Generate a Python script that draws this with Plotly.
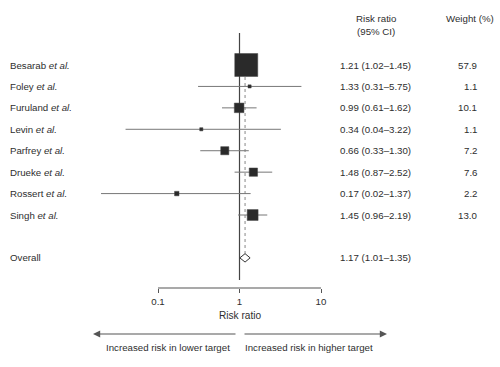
import math
import plotly.graph_objects as go

# ---- data ----
studies = ["Besarab", "Foley", "Furuland", "Levin", "Parfrey", "Drueke", "Rossert", "Singh"]
rr = [1.21, 1.33, 0.99, 0.34, 0.66, 1.48, 0.17, 1.45]
ci_lo = [1.02, 0.31, 0.61, 0.04, 0.33, 0.87, 0.02, 0.96]
ci_hi = [1.45, 5.75, 1.62, 3.22, 1.30, 2.52, 1.37, 2.19]
weights = [57.9, 1.1, 10.1, 1.1, 7.2, 7.6, 2.2, 13.0]
overall_rr = 1.17
overall_lo = 1.01
overall_hi = 1.35
tick_vals = [0.1, 1, 10]
tick_text = ["0.1", "1", "10"]

# ---- layout helpers ----
W, H = 500, 367
PX_DECADE = 81.5
PX_AT_01 = 158.0
ROW0_PX = 65.0
ROW_PX = 21.43
PLOT_BOTTOM = 288

def px_to_log(px):
    return -1 + (px - PX_AT_01) / PX_DECADE

def py_to_row(py):
    return (py - ROW0_PX) / ROW_PX

def py_to_paper(py):
    return (PLOT_BOTTOM - py) / PLOT_BOTTOM

rows = list(range(len(studies)))
overall_row = len(studies) + 1

FONT = "Liberation Sans, Arial, sans-serif"
TXT = "#2e2e2e"
FS = 9.7

fig = go.Figure()

# CI lines + squares
max_w = max(weights)
sizes = [23 * math.sqrt(w / max_w) for w in weights]
fig.add_trace(go.Scatter(
    x=rr, y=rows, mode="markers",
    marker=dict(symbol="square", size=sizes, color="#2a2a2a", opacity=1,
                line=dict(color="#444444", width=0.5)),
    error_x=dict(type="data", symmetric=False,
                 array=[h - r for h, r in zip(ci_hi, rr)],
                 arrayminus=[r - l for r, l in zip(rr, ci_lo)],
                 width=0, thickness=1, color="#777777"),
    hoverinfo="skip", showlegend=False, cliponaxis=False,
))

# overall diamond
h = 4.2 / ROW_PX
fig.add_trace(go.Scatter(
    x=[overall_lo, overall_rr, overall_hi, overall_rr, overall_lo],
    y=[overall_row, overall_row - h, overall_row, overall_row + h, overall_row],
    mode="lines", fill="toself", fillcolor="white",
    line=dict(color="#333333", width=1),
    hoverinfo="skip", showlegend=False,
))

shapes = [
    # line of no effect
    dict(type="line", xref="x", yref="y", x0=1, x1=1,
         y0=py_to_row(33), y1=py_to_row(280),
         line=dict(color="#444444", width=1.2), layer="below"),
    # overall dotted line
    dict(type="line", xref="x", yref="y", x0=overall_rr, x1=overall_rr,
         y0=0, y1=overall_row - h,
         line=dict(color="#888888", width=1, dash="dot"), layer="below"),
    # axis line
    dict(type="line", xref="x", yref="paper", x0=tick_vals[0], x1=tick_vals[-1],
         y0=0, y1=0, line=dict(color="#555555", width=1.2)),
]

ann = []
# study labels
for i, s in enumerate(studies):
    ann.append(dict(x=8 / W, xref="paper", y=i, yref="y", xanchor="left",
                    text=f"{s} <i>et al.</i>", showarrow=False,
                    font=dict(family=FONT, size=FS, color=TXT)))
    ann.append(dict(x=375 / W, xref="paper", y=i, yref="y", xanchor="center",
                    text=f"{rr[i]:.2f} ({ci_lo[i]:.2f}\u2013{ci_hi[i]:.2f})",
                    showarrow=False, font=dict(family=FONT, size=FS, color=TXT)))
    ann.append(dict(x=479 / W, xref="paper", y=i, yref="y", xanchor="right",
                    text=f"{weights[i]:.1f}", showarrow=False,
                    font=dict(family=FONT, size=FS, color=TXT)))
ann.append(dict(x=8 / W, xref="paper", y=overall_row, yref="y", xanchor="left",
                text="Overall", showarrow=False, font=dict(family=FONT, size=FS, color=TXT)))
ann.append(dict(x=375 / W, xref="paper", y=overall_row, yref="y", xanchor="center",
                text=f"{overall_rr:.2f} ({overall_lo:.2f}\u2013{overall_hi:.2f})",
                showarrow=False, font=dict(family=FONT, size=FS, color=TXT)))
# headers
ann.append(dict(x=375.5 / W, xref="paper", y=py_to_row(24.5), yref="y", xanchor="center",
                text="Risk ratio<br>(95% CI)", showarrow=False, align="center",
                font=dict(family=FONT, size=FS, color=TXT)))
ann.append(dict(x=470 / W, xref="paper", y=py_to_row(18), yref="y", xanchor="center",
                text="Weight (%)", showarrow=False,
                font=dict(family=FONT, size=FS, color=TXT)))
# axis title
ann.append(dict(x=240 / W, xref="paper", y=py_to_paper(315), yref="paper",
                xanchor="center", yanchor="middle",
                text="Risk ratio", showarrow=False,
                font=dict(family=FONT, size=FS + 0.4, color=TXT)))
# direction arrows
ya = py_to_paper(334)
ann.append(dict(x=px_to_log(93), y=ya, xref="x", yref="paper",
                ax=px_to_log(237), ay=0, axref="x", ayref="pixel",
                text="", showarrow=True, arrowhead=2, arrowsize=1.2,
                arrowwidth=1.2, arrowcolor="#555555"))
ann.append(dict(x=px_to_log(387), y=ya, xref="x", yref="paper",
                ax=px_to_log(243), ay=0, axref="x", ayref="pixel",
                text="", showarrow=True, arrowhead=2, arrowsize=1.2,
                arrowwidth=1.2, arrowcolor="#555555"))
yl = py_to_paper(347)
ann.append(dict(x=168 / W, xref="paper", y=yl, yref="paper",
                xanchor="center", yanchor="middle",
                text="Increased risk in lower target", showarrow=False,
                font=dict(family=FONT, size=FS, color=TXT)))
ann.append(dict(x=309 / W, xref="paper", y=yl, yref="paper",
                xanchor="center", yanchor="middle",
                text="Increased risk in higher target", showarrow=False,
                font=dict(family=FONT, size=FS, color=TXT)))

fig.update_layout(
    width=W, height=H,
    margin=dict(l=0, r=0, t=0, b=H - PLOT_BOTTOM, pad=0),
    paper_bgcolor="white", plot_bgcolor="white",
    showlegend=False,
    shapes=shapes, annotations=ann,
    xaxis=dict(type="log", range=[px_to_log(0), px_to_log(W)],
               tickvals=tick_vals, ticktext=tick_text,
               ticks="outside", ticklen=4, tickwidth=1, tickcolor="#555555",
               showline=False, showgrid=False, zeroline=False,
               tickfont=dict(family=FONT, size=FS, color=TXT), fixedrange=True),
    yaxis=dict(range=[py_to_row(PLOT_BOTTOM), py_to_row(0)],
               visible=False, showgrid=False, zeroline=False, fixedrange=True),
)

fig.write_html("out.html", config={"displayModeBar": False},
               post_script="document.body.style.margin='0';document.body.style.overflow='hidden';")
